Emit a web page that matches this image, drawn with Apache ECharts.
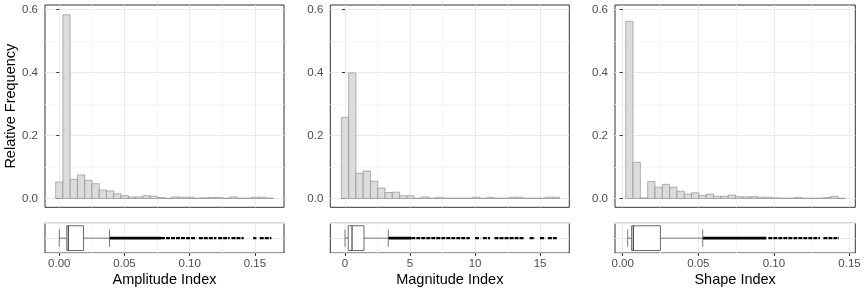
<!DOCTYPE html>
<html><head><meta charset="utf-8">
<script src="https://cdn.jsdelivr.net/npm/echarts@6/dist/echarts.min.js"></script>
<style>html,body{margin:0;padding:0;background:#fff}#c{width:864px;height:288px}</style>
</head><body><div id="c"></div>
<script>
// ---- data ----
const panelTitles = ['Amplitude Index', 'Magnitude Index', 'Shape Index'];
const yTitle = 'Relative Frequency';

// relative frequency per histogram bin (30 bins each)
const amplitudeFreq = [0.052, 0.584, 0.061, 0.075, 0.058, 0.047, 0.027, 0.024, 0.015, 0.009,
  0.005, 0.005, 0.009, 0.007, 0.003, 0.001, 0.005, 0.004, 0.004, 0.001,
  0.002, 0.003, 0.003, 0.001, 0.005, 0.001, 0.001, 0.004, 0.004, 0.001];
const magnitudeFreq = [0.258, 0.399, 0.080, 0.087, 0.055, 0.033, 0.019, 0.020, 0.009, 0.009,
  0.001, 0.005, 0.001, 0.004, 0.001, 0.001, 0.001, 0.001, 0.004, 0.001,
  0.003, 0.001, 0.001, 0.004, 0.004, 0.001, 0.001, 0.001, 0.004, 0.004];
const shapeFreq = [0.563, 0.115, 0.002, 0.054, 0.036, 0.045, 0.036, 0.023, 0.014, 0.018,
  0.010, 0.014, 0.007, 0.007, 0.011, 0.006, 0.005, 0.006, 0.004, 0.004,
  0.002, 0.001, 0.001, 0.003, 0.001, 0.001, 0.001, 0.003, 0.007, 0.001];

// first bin left edge and bin width
const amplitudeBins = [-0.0028, 0.00557];
const magnitudeBins = [-0.28, 0.56];
const shapeBins = [0.0020, 0.00484];

// boxplot stats: [lower whisker, Q1, median, Q3, upper whisker]
const amplitudeBox = [0, 0.0057, 0.0069, 0.0186, 0.0385];
const magnitudeBox = [0, 0.25, 0.54, 1.46, 3.33];
const shapeBox = [0.0033, 0.0059, 0.0070, 0.0249, 0.0529];

// outlier runs (dense stretches of points, then sparser stretches)
const amplitudeDense = [[0.0385, 0.078]];
const amplitudeSparse = [[0.078, 0.105], [0.107, 0.1205], [0.1218, 0.1307], [0.132, 0.1414], [0.1486, 0.1511], [0.1537, 0.1626]];
const magnitudeDense = [[3.33, 5.1]];
const magnitudeSparse = [[5.1, 9.6], [10.0, 10.4], [10.6, 11.15], [11.5, 13.8], [14.2, 14.6], [15.0, 15.4], [15.6, 16.3]];
const shapeDense = [[0.0529, 0.095]];
const shapeSparse = [[0.0963, 0.1305], [0.1327, 0.143]];

// axis ranges and tick steps
const xRanges = [[-0.01097, 0.1723], [-1.13, 17.25], [-0.0051, 0.1538]];
const xSteps = [0.05, 5, 0.05];
const xDecimals = [2, 0, 2];
const yRange = [-0.028, 0.615];
const yStep = 0.2;

// ---- chart ----
const FONT = 'Liberation Sans, Arial, sans-serif';
const panels = [
  {freq: amplitudeFreq, bins: amplitudeBins, box: amplitudeBox, dense: amplitudeDense, sparse: amplitudeSparse},
  {freq: magnitudeFreq, bins: magnitudeBins, box: magnitudeBox, dense: magnitudeDense, sparse: magnitudeSparse},
  {freq: shapeFreq, bins: shapeBins, box: shapeBox, dense: shapeDense, sparse: shapeSparse}
];
const lefts = [45, 330.3, 615];
const widths = [239, 239, 240.3];

const grid = [], xAxis = [], yAxis = [], series = [];
const isMultiple = (v, step) => Math.abs(v / step - Math.round(v / step)) < 1e-6;
const splitNums = [4, 4, 3];

panels.forEach((p, i) => {
  grid.push({left: lefts[i], top: 5, width: widths[i], height: 202.3, show: true, borderColor: '#333', borderWidth: 1, backgroundColor: '#fff'});
});
panels.forEach((p, i) => {
  grid.push({left: lefts[i], top: 223.3, width: widths[i], height: 30, show: true, borderColor: '#333', borderWidth: 1, backgroundColor: '#fff'});
});

const splitLine = {show: true, showMinLine: false, showMaxLine: false, lineStyle: {color: '#ebebeb', width: 1}};
const minorSplitLine = {show: true, lineStyle: {color: '#f4f4f4', width: 0.8}};
const tickFont = {fontFamily: FONT, fontSize: 11.5, color: '#4d4d4d'};

// histogram axes
panels.forEach((p, i) => {
  xAxis.push({type: 'value', gridIndex: i, min: xRanges[i][0], max: xRanges[i][1], splitNumber: splitNums[i],
    axisLabel: {show: false}, axisTick: {show: false}, axisLine: {show: false},
    splitLine, minorTick: {show: false, splitNumber: 2}, minorSplitLine});
  yAxis.push({type: 'value', gridIndex: i, min: yRange[0], max: yRange[1], splitNumber: 3,
    name: i === 0 ? yTitle : '', nameLocation: 'middle', nameGap: 25,
    nameTextStyle: {fontFamily: FONT, fontSize: 14.5, color: '#000'},
    axisLine: {show: false},
    axisTick: {show: true, length: 3, lineStyle: {color: '#333', width: 1}},
    axisLabel: Object.assign({margin: 7, showMinLabel: false, showMaxLabel: false,
      formatter: v => isMultiple(v, yStep) ? v.toFixed(1) : ''}, tickFont),
    splitLine, minorTick: {show: false, splitNumber: 2}, minorSplitLine});
});
// boxplot axes
panels.forEach((p, i) => {
  xAxis.push({type: 'value', gridIndex: 3 + i, min: xRanges[i][0], max: xRanges[i][1], splitNumber: splitNums[i],
    name: panelTitles[i], nameLocation: 'middle', nameGap: 19,
    nameTextStyle: {fontFamily: FONT, fontSize: 14.5, color: '#000'},
    axisLine: {show: false},
    axisTick: {show: true, length: 3, lineStyle: {color: '#333', width: 1}},
    axisLabel: Object.assign({margin: 5, showMinLabel: false, showMaxLabel: false,
      formatter: v => isMultiple(v, xSteps[i]) ? v.toFixed(xDecimals[i]) : ''}, tickFont),
    splitLine, minorTick: {show: false, splitNumber: 2}, minorSplitLine});
  yAxis.push({type: 'value', gridIndex: 3 + i, min: 0, max: 1.2, interval: 0.6,
    axisLine: {show: false}, axisTick: {show: false}, axisLabel: {show: false},
    splitLine: {show: true, lineStyle: {color: '#ebebeb', width: 1}}});
});

panels.forEach((p, i) => {
  // histogram
  const histData = p.freq.map((f, k) => [p.bins[0] + k * p.bins[1], p.bins[0] + (k + 1) * p.bins[1], f]);
  series.push({type: 'custom', xAxisIndex: i, yAxisIndex: i, data: histData, encode: {x: [0, 1], y: 2},
    silent: true, animation: false, clip: true,
    renderItem: (params, api) => {
      const a = api.coord([api.value(0), 0]);
      const b = api.coord([api.value(1), api.value(2)]);
      return {type: 'rect', shape: {x: a[0], y: b[1], width: b[0] - a[0], height: a[1] - b[1]},
        style: {fill: '#dcdcdc', stroke: '#858585', lineWidth: 0.6}};
    }});
  // outlier runs
  const runData = p.dense.map(r => [r[0], r[1], 1]).concat(p.sparse.map(r => [r[0], r[1], 0]));
  series.push({type: 'custom', xAxisIndex: 3 + i, yAxisIndex: 3 + i, data: runData, encode: {x: [0, 1]},
    silent: true, animation: false, clip: true, z: 3,
    renderItem: (params, api) => {
      const a = api.coord([api.value(0), 0.6]);
      const b = api.coord([api.value(1), 0.6]);
      const dense = api.value(2) === 1;
      return {type: 'line', shape: {x1: a[0], y1: a[1], x2: b[0], y2: b[1]},
        style: {stroke: '#000', lineWidth: dense ? 2.6 : 2.2, lineDash: dense ? null : [4, 1]}};
    }});
  // box
  series.push({type: 'custom', xAxisIndex: 3 + i, yAxisIndex: 3 + i, data: [p.box], encode: {x: [0, 1, 2, 3, 4]},
    silent: true, animation: false, clip: true, z: 4,
    renderItem: (params, api) => {
      const lo = api.value(0), q1 = api.value(1), md = api.value(2), q3 = api.value(3), hi = api.value(4);
      const c = (v, y) => api.coord([v, y]);
      const boxTop = c(q1, 1.1)[1], boxBot = c(q1, 0.1)[1];
      const capTop = c(lo, 0.95)[1], capBot = c(lo, 0.25)[1];
      const mid = c(lo, 0.6)[1];
      const xl = c(lo, 0)[0], x1 = c(q1, 0)[0], xm = c(md, 0)[0], x3 = c(q3, 0)[0], xh = c(hi, 0)[0];
      const ws = {stroke: '#5a5a5a', lineWidth: 0.8};
      return {type: 'group', children: [
        {type: 'line', shape: {x1: xl, y1: mid, x2: x1, y2: mid}, style: ws},
        {type: 'line', shape: {x1: x3, y1: mid, x2: xh, y2: mid}, style: ws},
        {type: 'line', shape: {x1: xl, y1: capTop, x2: xl, y2: capBot}, style: ws},
        {type: 'line', shape: {x1: xh, y1: capTop, x2: xh, y2: capBot}, style: ws},
        {type: 'rect', shape: {x: x1, y: boxTop, width: x3 - x1, height: boxBot - boxTop}, style: {fill: '#fff', stroke: '#444', lineWidth: 0.8}},
        {type: 'line', shape: {x1: xm, y1: boxTop, x2: xm, y2: boxBot}, style: {stroke: '#333', lineWidth: 1.1}}
      ]};
    }});
});

const chart = echarts.init(document.getElementById('c'), null, {renderer: 'canvas'});
chart.setOption({backgroundColor: '#fff', animation: false, grid, xAxis, yAxis, series});
</script>
</body></html>
